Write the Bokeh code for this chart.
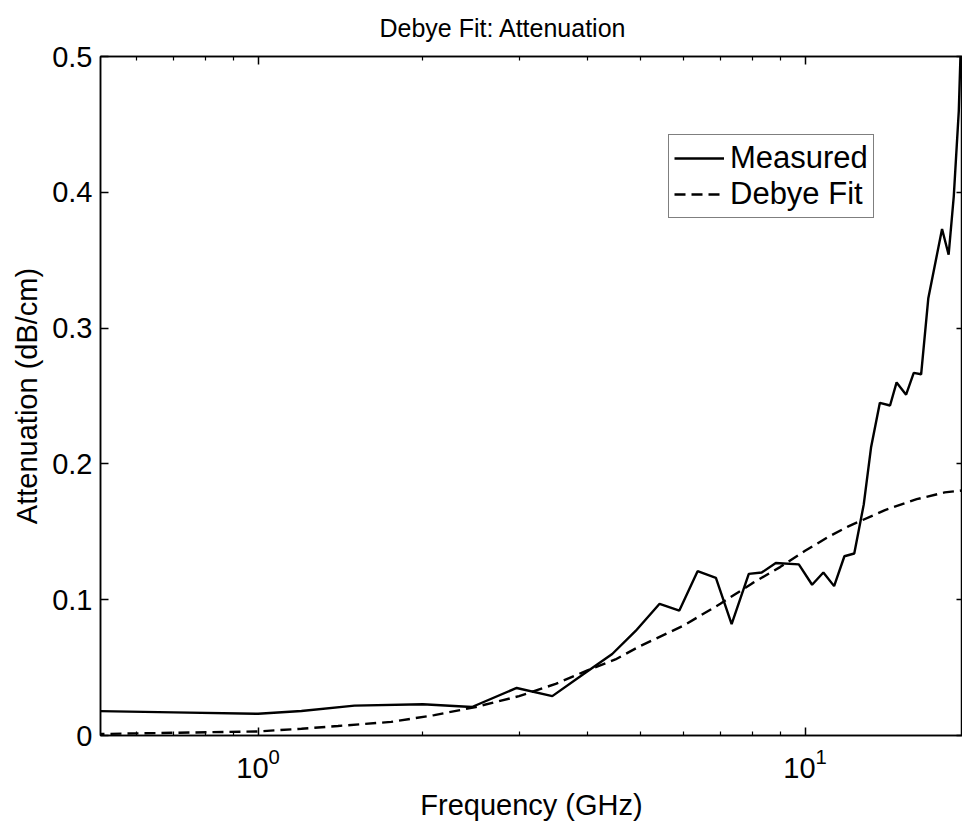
from bokeh.plotting import figure
from bokeh.models import FixedTicker, LinearAxis, LogAxis, Range1d, Legend, LegendItem
from bokeh.embed import file_html
from bokeh.resources import INLINE

# ---- data ----
freq_measured = [0.5, 0.7, 1.0, 1.2, 1.5, 2.0, 2.46, 2.97, 3.45, 3.96, 4.44, 4.9,
                 5.42, 5.89, 6.36, 6.87, 7.34, 7.89, 8.33, 8.84, 9.74, 10.3, 10.8,
                 11.3, 11.8, 12.3, 12.8, 13.2, 13.7, 14.3, 14.7, 15.3, 15.8, 16.3,
                 16.8, 17.8, 18.3, 18.7, 19.1, 19.4]
atten_measured = [0.018, 0.017, 0.016, 0.018, 0.022, 0.023, 0.021, 0.035, 0.029, 0.046,
                  0.060, 0.077, 0.097, 0.092, 0.121, 0.116, 0.082, 0.119, 0.120, 0.127,
                  0.126, 0.111, 0.120, 0.110, 0.132, 0.134, 0.170, 0.212, 0.245, 0.243,
                  0.260, 0.251, 0.267, 0.266, 0.322, 0.373, 0.354, 0.397, 0.46, 0.55]

freq_fit = [0.5, 0.7, 1.0, 1.2, 1.4, 1.75, 2.1, 2.5, 3.0, 3.5, 4.0, 4.5, 5.0, 6.0,
            7.0, 8.0, 9.0, 10.0, 11.0, 12.0, 14.0, 16.0, 18.0, 20.0]
atten_fit = [0.001, 0.002, 0.003, 0.005, 0.007, 0.010, 0.015, 0.021, 0.029, 0.038,
             0.048, 0.056, 0.066, 0.081, 0.097, 0.112, 0.124, 0.136, 0.146, 0.154,
             0.166, 0.174, 0.179, 0.181]

x_major_ticks = [1, 10]
x_minor_ticks = [0.6, 0.7, 0.8, 0.9, 2, 3, 4, 5, 6, 7, 8, 9]
y_ticks = [0, 0.1, 0.2, 0.3, 0.4, 0.5]
title_text = "Debye Fit: Attenuation"
x_label = "Frequency (GHz)"
y_label = "Attenuation (dB/cm)"
legend_labels = ["Measured", "Debye Fit"]

FONT = "Liberation Sans"
TICK_FS = "29px"

p = figure(width=962, height=830, x_axis_type="log",
           x_range=Range1d(0.515, 19.4), y_range=Range1d(0, 0.5),
           output_backend="svg", toolbar_location=None,
           min_border_left=100, min_border_right=0, min_border_top=54,
           min_border_bottom=95)

p.title.text = title_text
p.title.text_font = FONT
p.title.text_font_size = "25px"
p.title.text_font_style = "normal"
p.title.text_color = "black"
p.title.align = "left"
p.title.vertical_align = "top"
p.title.offset = 279
p.title.standoff = 26

p.xgrid.visible = False
p.ygrid.visible = False
p.outline_line_color = "black"
p.outline_line_width = 1.5
p.background_fill_color = "white"
p.border_fill_color = "white"

xa = p.xaxis[0]
xa.ticker = FixedTicker(ticks=x_major_ticks, minor_ticks=x_minor_ticks)
xa.axis_label = x_label
ya = p.yaxis[0]
ya.ticker = FixedTicker(ticks=y_ticks)
ya.axis_label = y_label
ya.major_label_overrides = {0: "0"}

for ax in (xa, ya):
    ax.axis_line_color = "black"
    ax.axis_line_width = 1.5
    ax.major_tick_in = 8
    ax.major_tick_out = 0
    ax.minor_tick_in = 4
    ax.minor_tick_out = 0
    ax.major_tick_line_width = 1.5
    ax.minor_tick_line_width = 1.2
    ax.major_label_text_font = FONT
    ax.major_label_text_font_size = TICK_FS
    ax.major_label_text_color = "black"
    ax.axis_label_text_font = FONT
    ax.axis_label_text_font_size = TICK_FS
    ax.axis_label_text_font_style = "normal"
    ax.axis_label_text_color = "black"
ya.minor_tick_line_color = None
xa.major_label_standoff = 12
xa.axis_label_standoff = 8
ya.major_label_standoff = 8
ya.axis_label_standoff = 6

# box ticks on the right and top (MATLAB style), labels invisible
ra = LinearAxis(ticker=FixedTicker(ticks=y_ticks), major_label_text_font_size="2px",
                major_label_text_alpha=0.0,
                major_tick_in=6, major_tick_out=0, minor_tick_line_color=None,
                major_label_standoff=0, axis_line_width=1.5, major_tick_line_width=1.5)
p.add_layout(ra, "right")
ta = LogAxis(ticker=FixedTicker(ticks=x_major_ticks, minor_ticks=x_minor_ticks),
             major_label_text_font_size="2px", major_label_text_alpha=0.0,
             major_tick_in=8, major_tick_out=0,
             minor_tick_in=4, minor_tick_out=0, major_label_standoff=0,
             axis_line_width=1.5, major_tick_line_width=1.5, minor_tick_line_width=1.2)
p.add_layout(ta, "above")

r1 = p.line(freq_measured, atten_measured, line_color="black", line_width=2.4)
r2 = p.line(freq_fit, atten_fit, line_color="black", line_width=2.4, line_dash="11 6")

legend = Legend(items=[LegendItem(label=legend_labels[0], renderers=[r1]),
                       LegendItem(label=legend_labels[1], renderers=[r2])],
                location=(568, 517), orientation="vertical",
                border_line_color="black", border_line_width=1.5,
                background_fill_color="white", background_fill_alpha=1.0,
                label_text_font=FONT, label_text_font_size="31px",
                label_text_color="black",
                label_height=22, glyph_height=22, glyph_width=50,
                label_standoff=6, padding=5, spacing=0, margin=0)
p.add_layout(legend, "center")

open("out.html", "w").write(file_html(p, INLINE))
